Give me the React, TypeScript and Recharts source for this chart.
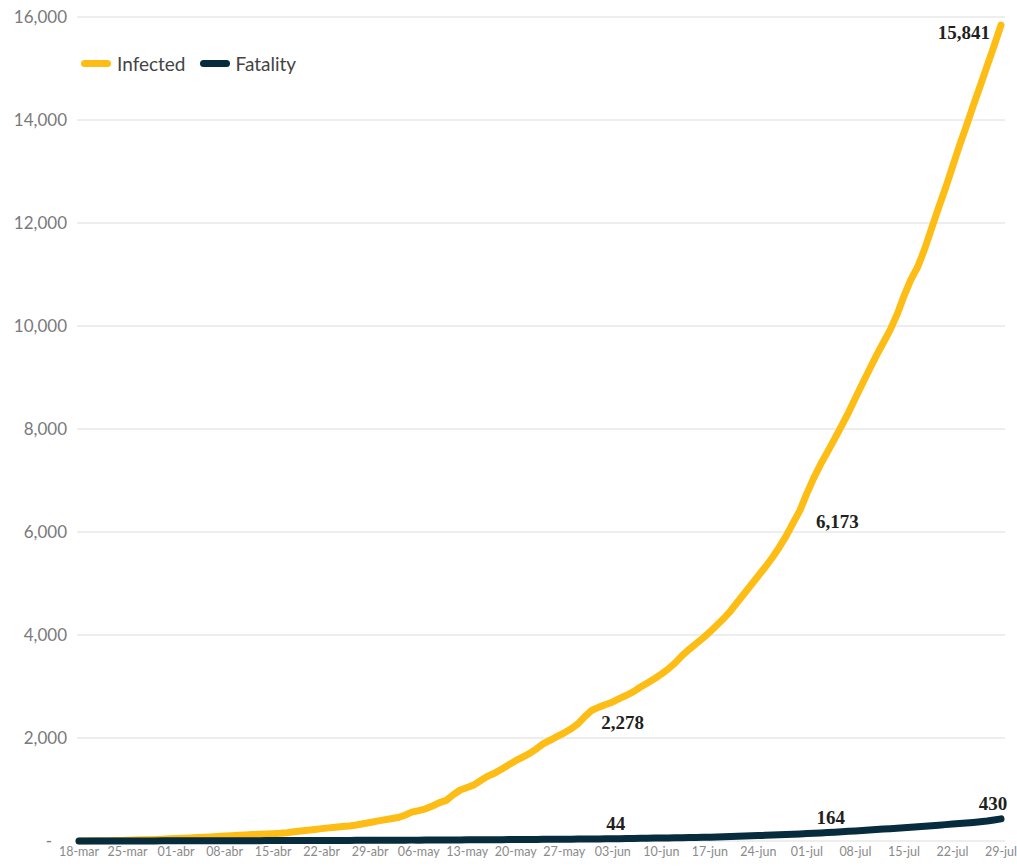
import React from "react";
import {
  LineChart,
  Line,
  XAxis,
  YAxis,
  CartesianGrid,
  LabelList,
} from "recharts";

// Daily cumulative counts, 18-mar through 29-jul
const INFECTED = [
  1, 2, 3, 5, 7, 9, 12, 15, 18, 22, 26, 30, 36, 42, 48, 54, 60, 66, 72, 80,
  88, 96, 104, 110, 117, 124, 130, 137, 143, 150, 162, 178, 196, 210, 225, 240,
  255, 268, 280, 292, 310, 335, 360, 385, 410, 432, 455, 500, 560, 590, 625,
  680, 745, 790, 900, 990, 1040, 1090, 1180, 1260, 1320, 1400, 1480, 1560, 1630,
  1700, 1790, 1890, 1960, 2030, 2100, 2180, 2278, 2420, 2540, 2600, 2650, 2700,
  2770, 2830, 2900, 2990, 3070, 3150, 3240, 3340, 3460, 3600, 3720, 3830, 3940,
  4060, 4190, 4320, 4470, 4640, 4810, 4980, 5150, 5320, 5500, 5700, 5920, 6173,
  6420, 6750, 7050, 7320, 7560, 7810, 8060, 8320, 8600, 8880, 9150, 9420, 9670,
  9920, 10220, 10580, 10900, 11150, 11500, 11900, 12300, 12680, 13090, 13500,
  13880, 14280, 14660, 15050, 15440, 15841,
];

const FATALITY = [
  0, 0, 0, 0, 0, 1, 1, 1, 1, 2, 2, 2, 3, 3, 3, 4, 4, 4, 5, 5, 5,
  6, 6, 6, 7, 7, 7, 8, 8, 8, 9, 9, 10, 10, 10, 11, 11, 12, 12, 12, 13,
  13, 14, 14, 15, 15, 16, 16, 17, 17, 18, 19, 19, 20, 21, 21, 22, 23, 23, 24, 25,
  26, 27, 28, 29, 30, 31, 32, 33, 34, 35, 36, 37, 38, 39, 41, 42, 44,
  46, 48, 50, 52, 54, 56, 58, 60, 62, 64, 66, 69, 72, 75,
  80, 84, 88, 92, 96, 100, 105, 110, 115, 120, 126, 132, 138, 144, 151, 157, 164,
  172, 180, 188, 196, 204, 213, 222, 231, 240, 249, 258, 268, 278, 288, 298, 308,
  318, 328, 338, 349, 361, 374, 389, 408, 430,
];

const MONTHS = ["ene", "feb", "mar", "abr", "may", "jun", "jul", "ago", "sep", "oct", "nov", "dic"];
const START = { year: 2020, month: 2, day: 18 };

const Y_TICKS = [0, 2000, 4000, 6000, 8000, 10000, 12000, 14000, 16000];

// indices of the points that carry a value label
const INFECTED_LABELS = [72, 103, 133];
const FATALITY_LABELS = [77, 108, 133];

const YELLOW = "#fdbd15";
const NAVY = "#072c3e";

const SERIES = [
  { name: "Infected", color: YELLOW },
  { name: "Fatality", color: NAVY },
];

function dayLabel(i: number) {
  const d = new Date(START.year, START.month, START.day + i);
  return `${String(d.getDate()).padStart(2, "0")}-${MONTHS[d.getMonth()]}`;
}

const data = INFECTED.map((v, i) => ({
  date: dayLabel(i),
  infected: v,
  fatality: FATALITY[i],
}));

const labelFont = {
  fontFamily: "'Liberation Serif', 'DejaVu Serif', serif",
  fontWeight: 700,
  fontSize: 19,
  fill: "#231f20",
};

const InfectedLabel = (props: any) => {
  const { x, y, value, index } = props;
  if (!INFECTED_LABELS.includes(index)) return null;
  const fmt = Number(value).toLocaleString("en-US");
  if (index === INFECTED.length - 1) {
    return (
      <text x={x - 11} y={y + 14} textAnchor="end" {...labelFont}>
        {fmt}
      </text>
    );
  }
  return (
    <text x={x + 23} y={y + 5} textAnchor="start" {...labelFont}>
      {fmt}
    </text>
  );
};

const FatalityLabel = (props: any) => {
  const { x, y, value, index } = props;
  if (!FATALITY_LABELS.includes(index)) return null;
  const last = index === FATALITY.length - 1;
  return (
    <text
      x={last ? x - 8 : x + 3}
      y={y - 9}
      textAnchor="middle"
      {...labelFont}
    >
      {Number(value).toLocaleString("en-US")}
    </text>
  );
};

const YTick = (props: any) => {
  const { x, y, payload } = props;
  const v = payload.value;
  return (
    <text
      x={v === 0 ? x - 17 : x - 2}
      y={y}
      dy={6}
      textAnchor="end"
      fontFamily="Lato, sans-serif"
      fontSize={17}
      fill="#7a7a7a"
    >
      {v === 0 ? "-" : v.toLocaleString("en-US")}
    </text>
  );
};

export default function App() {
  return (
    <div style={{ position: "absolute", left: 0, top: 0, width: 1017, height: 867, background: "#fff" }}>
      <LineChart
        width={1017}
        height={867}
        data={data}
        margin={{ top: 17, right: 12, bottom: 0, left: 0 }}
      >
        <CartesianGrid vertical={false} stroke="#dcdcdc" strokeWidth={1} />
        <XAxis
          dataKey="date"
          interval={6}
          height={26}
          padding={{ left: 2, right: 4 }}
          axisLine={false}
          tickLine={false}
          tick={{ fontFamily: "Lato, sans-serif", fontSize: 12.5, fill: "#8a8a8a" }}
          dy={-2}
        />
        <YAxis
          width={77}
          domain={[0, 16000]}
          ticks={Y_TICKS}
          axisLine={false}
          tickLine={false}
          tick={<YTick />}
        />
        <Line
          type="linear"
          dataKey="infected"
          name="Infected"
          stroke={YELLOW}
          strokeWidth={7}
          strokeLinecap="round"
          strokeLinejoin="round"
          dot={false}
          activeDot={false}
          isAnimationActive={false}
        >
          <LabelList dataKey="infected" content={<InfectedLabel />} />
        </Line>
        <Line
          type="linear"
          dataKey="fatality"
          name="Fatality"
          stroke={NAVY}
          strokeWidth={7}
          strokeLinecap="round"
          strokeLinejoin="round"
          dot={false}
          activeDot={false}
          isAnimationActive={false}
        >
          <LabelList dataKey="fatality" content={<FatalityLabel />} />
        </Line>
      </LineChart>
      {/* series key, top-left inside the plot */}
      <div
        style={{
          position: "absolute",
          left: 81,
          top: 52,
          display: "flex",
          alignItems: "center",
          fontFamily: "Lato, sans-serif",
          fontSize: 19,
          color: "#444",
        }}
      >
        {SERIES.map((s) => (
          <div key={s.name} style={{ display: "flex", alignItems: "center", marginRight: 14 }}>
            <span
              style={{
                display: "inline-block",
                width: 30,
                height: 7,
                borderRadius: 4,
                background: s.color,
                marginRight: 6,
              }}
            />
            {s.name}
          </div>
        ))}
      </div>
    </div>
  );
}
